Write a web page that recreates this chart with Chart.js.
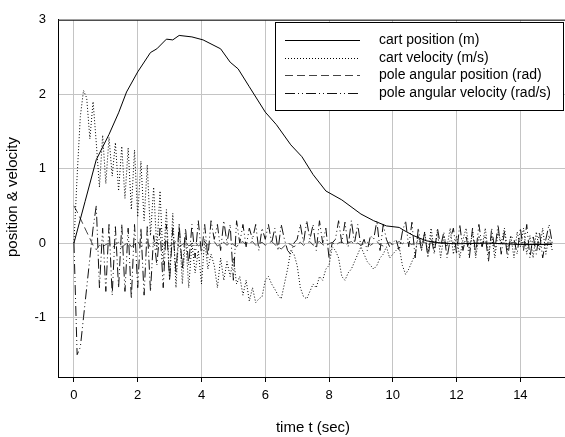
<!DOCTYPE html>
<html>
<head>
<meta charset="utf-8">
<script src="https://cdn.jsdelivr.net/npm/chart.js@4/dist/chart.umd.min.js"></script>
<style>
  html, body { margin: 0; padding: 0; background: #fff; }
  #wrap { width: 565px; height: 437px; }
</style>
</head>
<body>
<div id="wrap"><canvas id="cartPoleChart" width="565" height="437"></canvas></div>
<script>
// tick labels
const xTicks = [0, 2, 4, 6, 8, 10, 12, 14];
const yTicks = [-1, 0, 1, 2, 3];

// sample times for the controller signals (0 .. 15 s, every 0.1 s)
const sampleTime = Array.from({ length: 151 }, (_, i) => +(i * 0.1).toFixed(1));

// cart position (m) - smooth, own time points
const cartPosTime = [0, 0.35, 0.7, 1.1, 1.4, 1.65, 2.0, 2.4, 2.6, 2.9, 3.1, 3.3, 3.7, 4.05, 4.6, 4.9, 5.15, 5.5, 6.0, 6.35, 6.8, 7.15, 7.5, 7.9, 8.4, 9.0, 9.4, 9.8, 10.2, 10.35, 10.65, 11.05, 11.5, 12, 13, 14, 15];
const cartPos = [0, 0.56, 1.12, 1.46, 1.75, 2.03, 2.3, 2.56, 2.61, 2.74, 2.73, 2.79, 2.77, 2.73, 2.61, 2.43, 2.34, 2.1, 1.76, 1.59, 1.32, 1.16, 0.92, 0.7, 0.58, 0.39, 0.3, 0.23, 0.21, 0.17, 0.1, 0.03, 0.0, -0.01, 0.0, -0.02, -0.02];

// cart velocity (m/s)
const cartVel = [
  0, 0.9, 1.7, 2.05, 1.95, 1.4, 1.9, 1.35, 0.75, 1.45,
  0.8, 1.42, 0.9, 1.35, 0.7, 1.3, 0.6, 1.28, 0.45, 1.25,
  0.35, 1.1, 0.3, 1.05, 0.1, 0.75, -0.1, 0.7, -0.3, 0.45,
  -0.5, 0.4, -0.6, 0.25, -0.55, 0.1, -0.6, 0.0, -0.4, -0.1,
  -0.55, 0.05, -0.35, -0.15, -0.3, -0.6, -0.2, -0.5, -0.25, -0.45,
  -0.2, -0.55, -0.45, -0.7, -0.5, -0.78, -0.6, -0.8, -0.75, -0.72,
  -0.5, -0.45, -0.55, -0.62, -0.7, -0.75, -0.55, -0.35, -0.1, -0.15,
  -0.3, -0.6, -0.72, -0.75, -0.65, -0.55, -0.6, -0.45, -0.5, -0.35,
  -0.3, -0.05, -0.1, -0.2, -0.45, -0.5, -0.4, -0.35, -0.25, -0.15,
  -0.05, -0.15, -0.25, -0.3, -0.35, -0.3, -0.2, -0.15, -0.05, -0.2,
  -0.15, -0.1, -0.05, -0.3, -0.42, -0.35, -0.25, -0.15, 0.1, -0.1,
  0.15, -0.15, 0.2, -0.1, 0.15, -0.2, 0.1, -0.05, 0.2, -0.15,
  0.1, -0.2, 0.05, 0.2, -0.1, 0.15, -0.2, 0.1, -0.05, 0.2,
  -0.15, 0.1, -0.2, 0.15, 0.0, 0.2, -0.1, 0.1, -0.2, 0.15,
  -0.05, 0.2, -0.15, 0.1, -0.2, 0.15, -0.1, 0.2, -0.15, 0.1,
  -0.1
];

// pole angular position (rad)
const poleAngle = [
  0.5, 0.42, 0.33, 0.24, 0.15, 0.06, -0.03, -0.09, -0.03, -0.05,
  -0.02, 0.0, -0.06, -0.02, 0.01, -0.06, -0.02, 0.01, -0.05, -0.02,
  0.02, -0.05, -0.01, 0.02, -0.06, -0.02, 0.01, -0.05, -0.02, 0.02,
  -0.04, -0.01, 0.02, -0.05, -0.02, 0.01, -0.04, -0.01, 0.02, -0.04,
  -0.01, 0.02, -0.03, 0.0, 0.02, -0.04, -0.01, 0.01, -0.03, 0.01,
  -0.02, -0.05, 0.0, 0.02, -0.03, 0.0, 0.02, -0.03, -0.01, 0.01,
  -0.03, 0.0, 0.02, -0.02, -0.05, -0.08, -0.04, 0.0, -0.02, -0.05,
  -0.02, 0.01, -0.03, 0.0, 0.02, -0.03, 0.0, 0.02, -0.02, -0.04,
  -0.01, 0.01, -0.03, 0.0, 0.02, -0.03, 0.0, 0.02, -0.02, 0.0,
  -0.03, -0.01, 0.01, -0.03, 0.0, 0.02, -0.02, -0.04, -0.01, 0.01,
  -0.02, 0.0, 0.02, -0.01, 0.02, 0.0, -0.02, 0.01, -0.01, 0.0,
  0.01, -0.01, 0.0, 0.01, -0.01, 0.0, 0.01, -0.01, 0.0, 0.01,
  -0.01, 0.0, 0.01, -0.01, 0.0, 0.01, 0.0, -0.01, 0.0, 0.01,
  -0.01, 0.0, 0.01, -0.01, 0.0, 0.0, -0.01, 0.0, 0.01, -0.01,
  0.0, 0.01, -0.01, 0.0, 0.0, -0.01, 0.0, 0.01, -0.01, 0.0,
  0.0
];

// pole angular velocity (rad/s)
const poleAngVel = [
  0, -1.5, -1.4, -1.0, -0.6, -0.2, 0.2, 0.5, -0.6, 0.2,
  -0.65, 0.25, -0.7, 0.22, -0.6, 0.25, -0.65, 0.2, -0.75, 0.25,
  -0.6, 0.2, -0.7, 0.22, -0.65, 0.1, -0.3, 0.2, -0.6, 0.25,
  -0.5, 0.2, -0.4, 0.25, -0.35, 0.2, -0.3, 0.25, -0.2, 0.3,
  -0.15, 0.25, -0.2, 0.3, 0.05, 0.25, -0.1, 0.3, 0.0, 0.25,
  -0.5, 0.3, 0.0, 0.25, -0.05, 0.2, 0.05, 0.25, -0.1, 0.2,
  0.05, 0.25, 0.0, 0.2, -0.1, 0.25, 0.05, -0.1, -0.15, 0.0,
  0.05, 0.25, 0.0, 0.3, 0.05, 0.25, -0.1, 0.3, 0.0, 0.2,
  -0.2, 0.0, 0.05, 0.3, 0.0, 0.28, -0.05, 0.3, 0.0, 0.25,
  -0.05, 0.05, -0.1, 0.1, 0.05, 0.3, -0.1, 0.25, 0.05, -0.05,
  0.0, 0.05, -0.1, 0.15, 0.3, -0.05, 0.28, -0.2, 0.2, -0.1,
  0.15, -0.2, 0.1, -0.15, 0.2, -0.05, 0.15, -0.2, 0.05, 0.2,
  -0.15, 0.25, -0.1, 0.1, -0.2, 0.2, -0.15, 0.25, -0.05, 0.1,
  -0.25, 0.2, -0.1, 0.25, -0.15, 0.15, -0.2, 0.1, 0.05, -0.15,
  0.2, -0.1, 0.25, -0.2, 0.1, -0.15, 0.15, -0.2, 0.05, 0.25,
  0.0
];

const seriesNames = ['cart position (m)', 'cart velocity (m/s)', 'pole angular position (rad)', 'pole angular velocity (rad/s)'];
const seriesDash = [[], [1, 2], [8, 4], [10, 3, 1, 3, 1, 3]];
const seriesColor = ['#000000', '#000000', '#444444', '#111111'];

const toPoints = (xs, ys) => ys.map((y, i) => ({ x: xs[i], y: y }));

// legend box + axis titles + top frame line
const decorations = {
  id: 'decorations',
  afterDraw(chart) {
    const ctx = chart.ctx;
    const area = chart.chartArea;
    ctx.save();

    // top frame line
    ctx.strokeStyle = '#222';
    ctx.lineWidth = 1;
    ctx.beginPath();
    ctx.moveTo(area.left, area.top + 0.5);
    ctx.lineTo(area.right, area.top + 0.5);
    ctx.stroke();

    // axis titles
    ctx.fillStyle = '#000';
    ctx.font = '15px "Liberation Sans", Arial, sans-serif';
    ctx.textAlign = 'center';
    ctx.textBaseline = 'middle';
    ctx.fillText('time t (sec)', 313, 428);
    ctx.translate(13, 197);
    ctx.rotate(-Math.PI / 2);
    ctx.fillText('position & velocity', 0, 0);
    ctx.setTransform(1, 0, 0, 1, 0, 0);

    // legend
    ctx.fillStyle = '#fff';
    ctx.fillRect(275.5, 22.5, 288, 88);
    ctx.strokeStyle = '#000';
    ctx.lineWidth = 1;
    ctx.strokeRect(275.5, 22.5, 288, 88);
    const rows = [40, 58, 75, 93];
    ctx.font = '14px "Liberation Sans", Arial, sans-serif';
    ctx.textAlign = 'left';
    rows.forEach((y, i) => {
      ctx.strokeStyle = seriesColor[i];
      ctx.setLineDash(seriesDash[i]);
      ctx.beginPath();
      ctx.moveTo(285, y + 0.5);
      ctx.lineTo(360, y + 0.5);
      ctx.stroke();
      ctx.setLineDash([]);
      ctx.fillStyle = '#000';
      ctx.fillText(seriesNames[i], 379, y);
    });
    ctx.restore();
  }
};

const data = {
  datasets: [
    { label: seriesNames[0], data: toPoints(cartPosTime, cartPos) },
    { label: seriesNames[1], data: toPoints(sampleTime, cartVel) },
    { label: seriesNames[2], data: toPoints(sampleTime, poleAngle) },
    { label: seriesNames[3], data: toPoints(sampleTime, poleAngVel) }
  ].map((ds, i) => ({
    ...ds,
    borderColor: seriesColor[i],
    borderWidth: 1,
    borderDash: seriesDash[i],
    pointRadius: 0,
    tension: 0,
    fill: false
  }))
};

const config = {
  type: 'line',
  data: data,
  options: {
    responsive: false,
    animation: false,
    layout: { padding: { top: 17, right: 0, left: 0, bottom: 0 } },
    plugins: {
      legend: { display: false },
      tooltip: { enabled: false }
    },
    scales: {
      x: {
        type: 'linear',
        min: -0.5,
        max: 15.4,
        afterBuildTicks: (scale) => { scale.ticks = xTicks.map(v => ({ value: v })); },
        afterFit: (scale) => { scale.height = 60; },
        grid: { color: '#c4c4c4', lineWidth: 1, tickLength: 5, tickColor: '#000', drawTicks: true },
        border: { color: '#000', width: 1 },
        ticks: { color: '#000', padding: 6, maxRotation: 0, font: { family: '"Liberation Sans", Arial, sans-serif', size: 13 } }
      },
      y: {
        min: -1.8,
        max: 3,
        afterBuildTicks: (scale) => { scale.ticks = yTicks.map(v => ({ value: v })); },
        afterFit: (scale) => { scale.width = 58; },
        grid: { color: '#c4c4c4', lineWidth: 1, drawTicks: false },
        border: { color: '#000', width: 1 },
        ticks: { color: '#000', padding: 12, font: { family: '"Liberation Sans", Arial, sans-serif', size: 13 } }
      }
    }
  },
  plugins: [decorations]
};

new Chart(document.getElementById('cartPoleChart'), config);
</script>
</body>
</html>
